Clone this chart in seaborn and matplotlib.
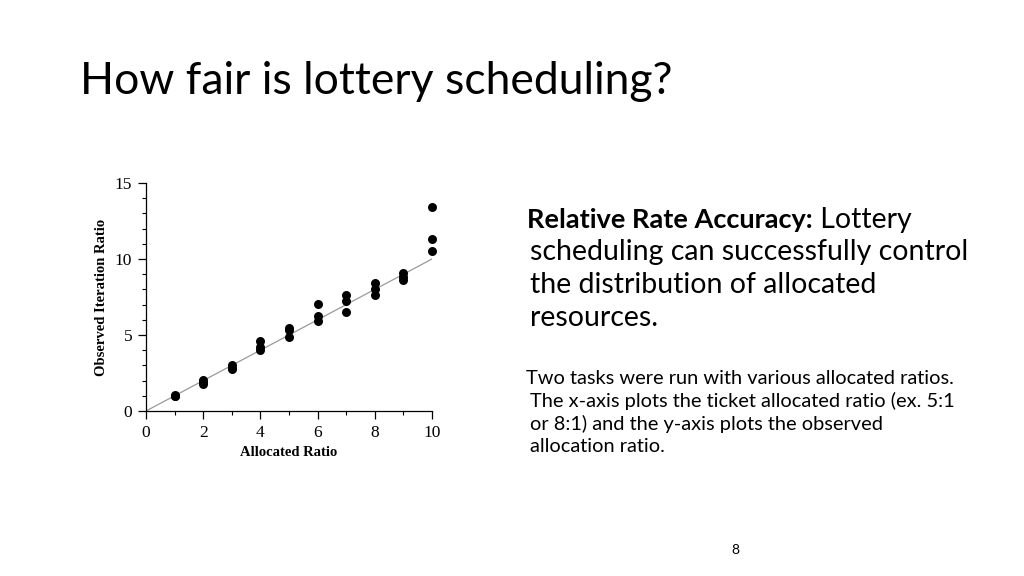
import pandas as pd
import seaborn as sns
import matplotlib.pyplot as plt
from matplotlib.ticker import MultipleLocator

# ticket ratio given to the two tasks, three runs each
allocated = [1, 1, 1, 2, 2, 2, 3, 3, 3, 4, 4, 4, 5, 5, 5,
             6, 6, 6, 7, 7, 7, 8, 8, 8, 9, 9, 9, 10, 10, 10]
observed = [1.02, 0.98, 1.0, 2.05, 1.9, 1.8, 3.0, 2.85, 2.75, 4.6, 4.2, 4.0,
            5.45, 5.35, 4.9, 7.05, 6.25, 5.95, 7.6, 7.25, 6.5, 8.45, 8.0, 7.65,
            9.1, 8.8, 8.6, 13.4, 11.3, 10.55]
ideal = [0, 10]

title = "How fair is lottery scheduling?"
bold_head = "Relative Rate Accuracy:"
para1 = [" Lottery", "scheduling can successfully control",
         "the distribution of allocated", "resources."]
para2 = ["Two tasks were run with various allocated ratios.",
         "The x-axis plots the ticket allocated ratio (ex. 5:1",
         "or 8:1) and the y-axis plots the observed",
         "allocation ratio."]

df = pd.DataFrame({"allocated": allocated, "observed": observed})

sns.set_style("ticks")
plt.rcParams['font.family'] = ['Lato', 'DejaVu Sans']
plt.rcParams['text.color'] = 'black'

fig = plt.figure(figsize=(10.24, 5.76), dpi=100)
ax = fig.add_axes([0.1426, 0.2865, 0.2793, 0.3958])

sns.lineplot(x=ideal, y=ideal, ax=ax, color="#9a9a9a", linewidth=0.9)
sns.scatterplot(data=df, x="allocated", y="observed", ax=ax,
                color="black", s=42, edgecolor="black", linewidth=0,
                zorder=3, clip_on=False)

ax.set_xlim(0, 10)
ax.set_ylim(0, 15)
ax.xaxis.set_major_locator(MultipleLocator(2))
ax.xaxis.set_minor_locator(MultipleLocator(1))
ax.yaxis.set_major_locator(MultipleLocator(5))
ax.yaxis.set_minor_locator(MultipleLocator(1))
ax.tick_params(which="major", direction="out", length=6, width=0.9, pad=4,
               labelsize=12.5, colors="black")
ax.tick_params(which="minor", direction="out", length=3, width=0.8,
               colors="black")
for lab in ax.get_xticklabels() + ax.get_yticklabels():
    lab.set_family("Liberation Serif")
for side in ["top", "right"]:
    ax.spines[side].set_visible(False)
for side in ["left", "bottom"]:
    ax.spines[side].set_linewidth(0.9)
    ax.spines[side].set_color("black")
ax.set_xlabel("Allocated Ratio", family="Liberation Serif", fontweight="bold",
              fontsize=10.5, labelpad=4, color="black")
ax.set_ylabel("Observed Iteration Ratio", family="Liberation Serif",
              fontweight="bold", fontsize=10.5, labelpad=5, color="black")

fig.text(80 / 1024, 1 - 82 / 576, title, fontsize=32, va="center", ha="left")

# first paragraph: bold lead-in followed by regular text on the same line
head = fig.text(527 / 1024, 1 - 220 / 576, bold_head, fontsize=19.5,
                fontweight="bold", va="center", ha="left")
fig.canvas.draw()
bb = head.get_window_extent()
fig.text(bb.x1 / 1024, 1 - 220 / 576, para1[0], fontsize=20.5, va="center",
         ha="left")
for i, line in enumerate(para1[1:]):
    fig.text(530 / 1024, 1 - (252 + 33 * i) / 576, line, fontsize=20.5,
             va="center", ha="left")

for i, line in enumerate(para2):
    x = 526 if i == 0 else 530
    fig.text(x / 1024, 1 - (378 + 23 * i) / 576, line, fontsize=14.4,
             va="center", ha="left")

fig.text(735 / 1024, 1 - 550 / 576, "8", fontsize=10, va="center", ha="center")

fig.savefig("out.png", dpi=100, facecolor="white")
